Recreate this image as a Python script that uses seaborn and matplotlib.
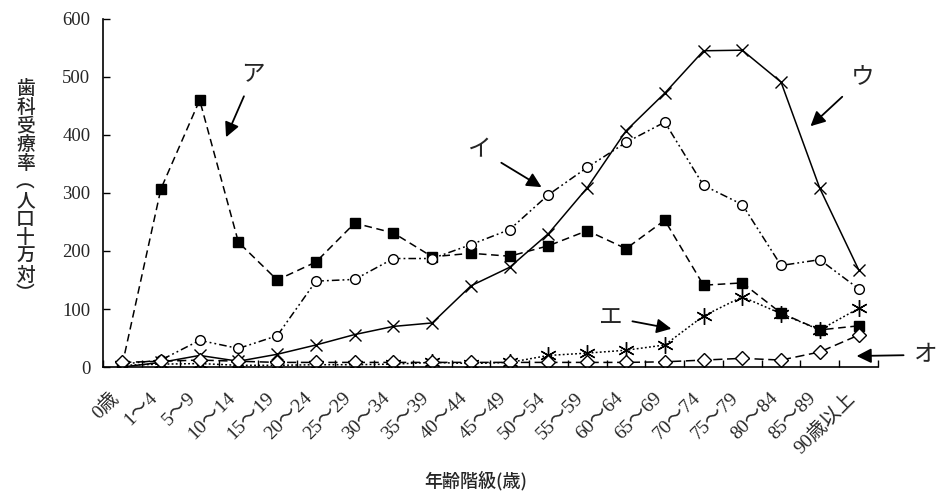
import numpy as np
import pandas as pd
import seaborn as sns
import matplotlib.pyplot as plt

age_groups = ["0歳", "1～4", "5～9", "10～14", "15～19", "20～24", "25～29",
              "30～34", "35～39", "40～44", "45～49", "50～54", "55～59",
              "60～64", "65～69", "70～74", "75～79", "80～84", "85～89", "90歳以上"]

rate_a = [3, 307, 460, 215, 150, 181, 248, 231, 190, 196, 191, 209, 235, 204, 253, 141, 145, 93, 64, 71]
rate_i = [5, 12, 46, 32, 54, 148, 151, 187, 187, 211, 237, 297, 344, 387, 422, 313, 280, 175, 185, 135]
rate_u = [0, 8, 20, 10, 22, 38, 56, 70, 76, 140, 172, 230, 309, 407, 472, 545, 546, 491, 308, 168]
rate_e = [3, 5, 6, 3, 3, 4, 4, 5, 8, 6, 8, 20, 24, 29, 38, 88, 121, 92, 64, 101]
rate_o = [8, 10, 12, 10, 8, 8, 8, 8, 8, 8, 8, 8, 8, 8, 9, 12, 15, 12, 26, 55]

series_names = ["ア", "イ", "ウ", "エ", "オ"]

sns.set_theme(style="white")
plt.rcParams['font.family'] = ['Liberation Serif', 'Noto Sans CJK JP']

df = pd.DataFrame({"age": np.arange(len(age_groups)),
                   "ア": rate_a, "イ": rate_i, "ウ": rate_u, "エ": rate_e, "オ": rate_o})
long = df.melt(id_vars="age", var_name="series", value_name="rate")

fig = plt.figure(figsize=(9.43, 4.96), dpi=100)
ax = fig.add_axes([0.109, 0.260, 0.822, 0.702])

# 線種とマーカー
styles = {
    "ア": dict(linestyle=(0, (5, 3)), marker='s', markersize=7, markerfacecolor='black'),
    "イ": dict(linestyle=(0, (5, 2, 1.2, 2, 1.2, 2)), marker='o', markersize=7, markerfacecolor='white'),
    "ウ": dict(linestyle='-', marker='x', markersize=9, markerfacecolor='black'),
    "エ": dict(linestyle=(0, (1.2, 1.5)), marker=(6, 2, 0), markersize=12, markerfacecolor='black'),
    "オ": dict(linestyle=(0, (6, 3)), marker='D', markersize=7, markerfacecolor='white'),
}
for name in series_names:
    sns.lineplot(data=long[long.series == name], x="age", y="rate", ax=ax,
                 color='black', lw=1.1, markeredgecolor='black', markeredgewidth=1.0,
                 errorbar=None, **styles[name])

ax.set_xlim(-0.5, len(age_groups) - 0.5)
ax.set_ylim(0, 600)
ax.set_yticks(range(0, 601, 100))
ax.set_xticks(np.arange(len(age_groups)))
ax.set_xticklabels(age_groups, rotation=45, ha='right', va='top', fontsize=14)
ax.set_xticks(np.arange(-0.5, len(age_groups), 1), minor=True)
ax.tick_params(axis='x', which='major', length=0, pad=16)
ax.tick_params(axis='x', which='minor', direction='in', length=5, width=1, color='black', bottom=True)
ax.tick_params(axis='y', direction='in', length=5, width=1, color='black', left=True, labelsize=13.5, pad=9)
ax.set_xlabel("")
ax.set_ylabel("")
for s in ["top", "right"]:
    ax.spines[s].set_visible(False)
for s in ["left", "bottom"]:
    ax.spines[s].set_color('black')
    ax.spines[s].set_linewidth(1.2)

# 系列ラベルと矢印
label_pos = {"ア": ((3.38, 503), (2.68, 396)),
             "イ": ((9.24, 374), (10.82, 310)),
             "ウ": ((19.1, 498), (17.76, 415)),
             "エ": ((12.6, 86), (14.17, 66)),
             "オ": ((20.73, 21), (18.95, 19))}
for name, (txt, head) in label_pos.items():
    ax.annotate(name, xy=head, xytext=txt, ha='center', va='center',
                fontsize=17, family='Noto Sans CJK JP', annotation_clip=False,
                arrowprops=dict(arrowstyle='-|>', color='black', lw=1.3,
                                mutation_scale=22, shrinkA=5, shrinkB=0))

# 縦書きの軸ラベル
ylabel_chars = list("歯科受療率︵人口十万対︶")
for i, ch in enumerate(ylabel_chars):
    fig.text(0.027, 1 - (89 + i * 18.6) / 496, ch, ha='center', va='center',
             fontsize=13.5, family='Noto Sans CJK JP', weight='medium')

fig.text(0.505, 1 - 481 / 496, "年齢階級(歳)", ha='center', va='center', fontsize=13,
         family=['Noto Sans CJK JP'], weight='medium')

fig.savefig("out.png", dpi=100)
